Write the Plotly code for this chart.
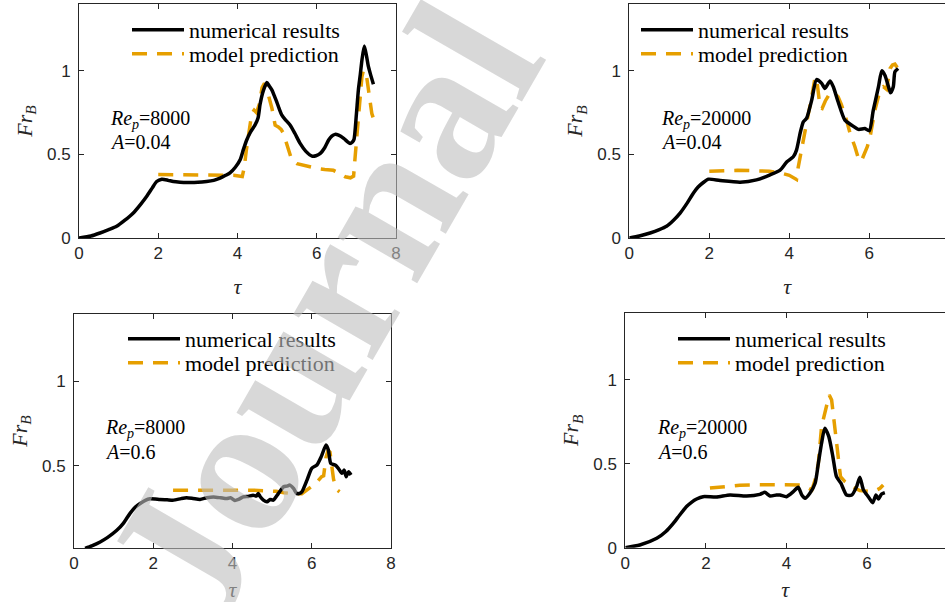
import plotly.graph_objects as go

# ---------------- data ----------------
# Top-left: Re_p=8000, A=0.04
tl_num_x = [0, 0.3, 0.53, 0.75, 0.95, 1.15, 1.37, 1.55, 1.71, 1.85, 1.96, 2.09, 2.25, 2.38, 2.55, 2.72, 3.0, 3.22, 3.4, 3.56,
            3.7, 3.81, 3.95, 4.07, 4.15, 4.23, 4.33, 4.44, 4.52, 4.57, 4.65, 4.74, 4.8, 4.87, 4.93, 4.99, 5.05, 5.12, 5.2,
            5.33, 5.45, 5.58, 5.72, 5.88, 5.98, 6.09, 6.2, 6.3, 6.38, 6.46, 6.55, 6.68, 6.78, 6.84, 6.9, 6.94, 7.0, 7.05,
            7.1, 7.14, 7.2, 7.26, 7.3, 7.35, 7.43]
tl_num_y = [0, 0.012, 0.03, 0.05, 0.07, 0.105, 0.15, 0.2, 0.25, 0.3, 0.338, 0.352, 0.345, 0.338, 0.334, 0.332, 0.333, 0.338,
            0.345, 0.358, 0.375, 0.39, 0.425, 0.47, 0.53, 0.585, 0.635, 0.675, 0.72, 0.8, 0.88, 0.93, 0.91, 0.885, 0.85,
            0.815, 0.775, 0.735, 0.71, 0.675, 0.625, 0.566, 0.52, 0.49, 0.492, 0.506, 0.54, 0.586, 0.61, 0.62, 0.615,
            0.596, 0.575, 0.566, 0.575, 0.59, 0.74, 0.885, 0.98, 1.064, 1.148, 1.084, 1.03, 0.985, 0.92]
tl_mod_x = [2.0, 2.5, 3.0, 3.5, 3.9, 4.12, 4.17, 4.22, 4.28, 4.36, 4.42, 4.48, 4.55, 4.62, 4.68, 4.74, 4.78, 4.87, 4.95,
            5.03, 5.1, 5.16, 5.22, 5.29, 5.37, 5.5, 5.75, 6.0, 6.2, 6.42, 6.55, 6.63, 6.72, 6.85, 6.93, 6.97, 7.05, 7.14,
            7.18, 7.26, 7.33, 7.39, 7.43]
tl_mod_y = [0.38, 0.38, 0.38, 0.38, 0.375, 0.368, 0.42, 0.52, 0.626, 0.745, 0.765, 0.75, 0.8, 0.9, 0.925, 0.9, 0.855,
            0.775, 0.675, 0.665, 0.65, 0.626, 0.58, 0.526, 0.466, 0.445, 0.43, 0.416, 0.41, 0.405, 0.39, 0.377, 0.366,
            0.36, 0.37, 0.49, 0.745, 0.964, 1.004, 0.964, 0.845, 0.745, 0.716]

# Top-right: Re_p=20000, A=0.04
tr_num_x = [0, 0.25, 0.52, 0.75, 0.93, 1.1, 1.27, 1.45, 1.6, 1.72, 1.85, 1.98, 2.27, 2.77, 3.18, 3.52, 3.77, 3.94, 4.1,
            4.18, 4.27, 4.35, 4.43, 4.56, 4.68, 4.81, 4.89, 5.02, 5.1, 5.22, 5.39, 5.56, 5.73, 5.89, 6.0, 6.1, 6.23,
            6.31, 6.39, 6.48, 6.53, 6.6, 6.64, 6.72]
tr_num_y = [0, 0.012, 0.03, 0.05, 0.07, 0.105, 0.149, 0.21, 0.268, 0.305, 0.332, 0.352, 0.344, 0.334, 0.348, 0.378,
            0.406, 0.456, 0.486, 0.526, 0.626, 0.695, 0.715, 0.825, 0.948, 0.925, 0.895, 0.94, 0.905, 0.815, 0.705,
            0.675, 0.65, 0.655, 0.641, 0.765, 0.905, 1.0, 0.974, 0.905, 0.869, 0.905, 0.994, 1.014]
tr_mod_x = [2.0, 2.7, 3.5, 3.77, 4.0, 4.12, 4.18, 4.22, 4.31, 4.43, 4.56, 4.64, 4.68, 4.72, 4.77, 4.82, 4.9, 5.0, 5.1,
            5.22, 5.3, 5.43, 5.52, 5.64, 5.74, 5.8, 5.88, 5.95, 6.02, 6.14, 6.27, 6.35, 6.43, 6.48, 6.52, 6.58, 6.64, 6.7]
tr_mod_y = [0.4, 0.405, 0.4, 0.39, 0.375, 0.36, 0.35, 0.42, 0.546, 0.685, 0.845, 0.955, 0.96, 0.88, 0.78, 0.775, 0.82,
            0.86, 0.87, 0.845, 0.8, 0.705, 0.626, 0.546, 0.466, 0.46, 0.5, 0.546, 0.606, 0.765, 0.885, 0.905, 0.89,
            0.95, 1.014, 1.035, 1.04, 1.02]

# Bottom-left: Re_p=8000, A=0.6
bl_num_x = [0.28, 0.45, 0.66, 0.85, 1.08, 1.25, 1.41, 1.55, 1.67, 1.8, 1.92, 2.05, 2.17, 2.35, 2.51, 2.7, 2.84, 3.0,
            3.18, 3.35, 3.52, 3.7, 3.85, 3.95, 4.06, 4.15, 4.27, 4.4, 4.52, 4.6, 4.65, 4.7, 4.78, 4.87, 4.95, 5.03, 5.16,
            5.29, 5.37, 5.45, 5.54, 5.62, 5.68, 5.75, 5.88, 6.0, 6.13, 6.24, 6.36, 6.42, 6.48, 6.59, 6.67, 6.76, 6.82,
            6.87, 6.93, 6.99]
bl_num_y = [0.01, 0.025, 0.048, 0.075, 0.117, 0.16, 0.216, 0.255, 0.276, 0.295, 0.304, 0.303, 0.3, 0.298, 0.296, 0.305,
            0.31, 0.306, 0.3, 0.31, 0.315, 0.31, 0.305, 0.31, 0.294, 0.3, 0.315, 0.318, 0.325, 0.32, 0.335, 0.316, 0.296,
            0.286, 0.3, 0.296, 0.336, 0.375, 0.379, 0.385, 0.365, 0.336, 0.335, 0.345, 0.415, 0.485, 0.504, 0.554,
            0.623, 0.593, 0.514, 0.504, 0.485, 0.455, 0.474, 0.435, 0.464, 0.445]
bl_mod_x = [2.5, 3.0, 3.5, 4.0, 4.5, 4.8, 5.1, 5.3, 5.5, 5.75, 5.9, 6.0, 6.1, 6.25, 6.3, 6.36, 6.41, 6.46, 6.5, 6.55,
            6.6, 6.65, 6.7]
bl_mod_y = [0.355, 0.356, 0.357, 0.356, 0.355, 0.352, 0.348, 0.34, 0.335, 0.334, 0.36, 0.38, 0.395, 0.435, 0.44, 0.55,
            0.59, 0.58, 0.49, 0.42, 0.38, 0.355, 0.345]

# Bottom-right: Re_p=20000, A=0.6
br_num_x = [0, 0.36, 0.78, 1.0, 1.19, 1.35, 1.52, 1.65, 1.77, 1.93, 2.26, 2.6, 3.01, 3.34, 3.46, 3.59, 3.75, 3.84, 4.0,
            4.17, 4.29, 4.38, 4.46, 4.58, 4.71, 4.79, 4.87, 4.95, 5.05, 5.15, 5.24, 5.35, 5.49, 5.62, 5.74, 5.82, 5.91,
            6.03, 6.14, 6.22, 6.28, 6.36, 6.44]
br_num_y = [0, 0.016, 0.056, 0.095, 0.145, 0.195, 0.245, 0.272, 0.29, 0.304, 0.302, 0.314, 0.308, 0.318, 0.33, 0.308,
            0.314, 0.314, 0.304, 0.334, 0.36, 0.314, 0.294, 0.324, 0.384, 0.503, 0.622, 0.712, 0.662, 0.543, 0.423,
            0.384, 0.314, 0.314, 0.364, 0.42, 0.344, 0.304, 0.268, 0.314, 0.29, 0.32, 0.328]
br_mod_x = [2.1, 2.5, 2.84, 3.3, 3.67, 4.0, 4.33, 4.5, 4.63, 4.71, 4.79, 4.87, 4.96, 5.06, 5.12, 5.18, 5.26, 5.34, 5.45,
            5.62, 5.82, 6.07, 6.19, 6.32, 6.4]
br_mod_y = [0.355, 0.365, 0.372, 0.375, 0.376, 0.376, 0.374, 0.362, 0.344, 0.404, 0.503, 0.722, 0.821, 0.91, 0.88,
            0.742, 0.563, 0.423, 0.394, 0.364, 0.34, 0.335, 0.338, 0.354, 0.374]

panel_re = ["8000", "20000", "8000", "20000"]
panel_a = ["0.04", "0.04", "0.6", "0.6"]
series_names = ["numerical results", "model prediction"]
x_ticks = [0, 2, 4, 6, 8]
y_ticks_full = [0, 0.5, 1]
y_ticks_bl = [0.5, 1]

# ---------------- styling ----------------
W, H = 945, 602
BLACK = "#000000"
ORANGE = "#E69F00"
AXC = "#262626"
SERIF = "Liberation Serif, DejaVu Serif, serif"
SANS = "Liberation Sans, Arial, sans-serif"

# panel boxes in pixels: (left, right, top, bottom)
boxes = [(79, 396, 4, 238), (629.3, 945, 4, 238), (74, 391, 314, 548), (625.3, 945, 312.7, 547.7)]
xranges = [[0, 8], [0, (945 - 629.3) / 40.0], [0, 8], [0, (945 - 625.3) / 40.3]]
yranges = [[0, 1.4], [0, 1.4], [0.012, 1.4], [0, 1.4]]
yticks = [y_ticks_full, y_ticks_full, y_ticks_bl, y_ticks_full]
y_mirror = ["ticks", False, "ticks", False]   # right-hand panels are cut by the page edge
leg_text_left = [193, 702, 189, 739]
leg_rows = [(30, 54), (30, 54), (339, 363), (339, 363)]
lab_left = [108, 659, 103, 655]
lab_rows = [(120, 142), (120, 142), (428, 452), (428, 452)]
ITEMW = 52

data_sets = [(tl_num_x, tl_num_y, tl_mod_x, tl_mod_y),
             (tr_num_x, tr_num_y, tr_mod_x, tr_mod_y),
             (bl_num_x, bl_num_y, bl_mod_x, bl_mod_y),
             (br_num_x, br_num_y, br_mod_x, br_mod_y)]

fig = go.Figure()
layout = dict(width=W, height=H, autosize=False, margin=dict(l=0, r=0, t=0, b=0, autoexpand=False),
              paper_bgcolor="white", plot_bgcolor="white", showlegend=True)

annotations = []
for i, (nx, ny, mx, my) in enumerate(data_sets):
    k = "" if i == 0 else str(i + 1)
    xa, ya = "x" + k, "y" + k
    leg_num = "legend" if i == 0 else "legend" + str(2 * i + 1)
    leg_mod = "legend" + str(2 * i + 2)
    fig.add_trace(go.Scatter(x=mx, y=my, mode="lines", name=series_names[1], xaxis=xa, yaxis=ya,
                             legend=leg_mod, hoverinfo="skip",
                             line=dict(color=ORANGE, width=3.5, dash="15px,10px")))
    fig.add_trace(go.Scatter(x=nx, y=ny, mode="lines", name=series_names[0], xaxis=xa, yaxis=ya,
                             legend=leg_num, hoverinfo="skip",
                             line=dict(color=BLACK, width=3.5, shape="spline", smoothing=0.6)))
    l, r, t, b = boxes[i]
    axis_common = dict(showline=True, linecolor=AXC, linewidth=1, ticks="inside",
                       ticklen=5, tickcolor=AXC, showgrid=False, zeroline=False, fixedrange=True,
                       tickfont=dict(family=SANS, size=17, color=AXC))
    layout["xaxis" + k] = dict(axis_common, domain=[l / W, r / W], range=xranges[i], tickvals=x_ticks,
                               anchor=ya, mirror="ticks",
                               title=dict(text="<i>τ</i>", font=dict(family=SERIF, size=22, color=AXC),
                                          standoff=16))
    layout["yaxis" + k] = dict(axis_common, domain=[1 - b / H, 1 - t / H], range=yranges[i],
                               tickvals=yticks[i], anchor=xa, ticklabelstandoff=4, mirror=y_mirror[i],
                               title=dict(text="<i>Fr</i><sub><i>B</i></sub>",
                                          font=dict(family=SERIF, size=22, color=AXC), standoff=8))
    # one legend per row so rows sit exactly where the reference has them
    for leg, row in ((leg_num, leg_rows[i][0]), (leg_mod, leg_rows[i][1])):
        layout[leg] = dict(x=(leg_text_left[i] - ITEMW - 14) / W, y=1 - row / H, xanchor="left",
                           yanchor="middle", itemwidth=ITEMW,
                           bgcolor="rgba(0,0,0,0)", borderwidth=0,
                           font=dict(family=SERIF, size=22, color=BLACK))
    # Re_p / A labels
    annotations.append(dict(xref="paper", yref="paper", x=lab_left[i] / W, y=1 - lab_rows[i][0] / H,
                            xanchor="left", yanchor="middle", showarrow=False,
                            text=f"<i>Re</i><sub><i>p</i></sub>={panel_re[i]}",
                            font=dict(family=SERIF, size=20, color=BLACK)))
    annotations.append(dict(xref="paper", yref="paper", x=lab_left[i] / W, y=1 - lab_rows[i][1] / H,
                            xanchor="left", yanchor="middle", showarrow=False,
                            text=f"<i>A</i>={panel_a[i]}",
                            font=dict(family=SERIF, size=20, color=BLACK)))

# watermark
annotations.append(dict(xref="paper", yref="paper", x=322 / W, y=1 - 312 / H, xanchor="center", yanchor="middle",
                        showarrow=False, text="<b>Journal</b>", textangle=-60,
                        font=dict(family=SERIF, size=200, color="rgba(190,190,190,0.6)")))
layout["annotations"] = annotations
fig.update_layout(**layout)
fig.write_html("out.html", config={"displayModeBar": False, "staticPlot": True},
               post_script="document.body.style.margin='0px';")
